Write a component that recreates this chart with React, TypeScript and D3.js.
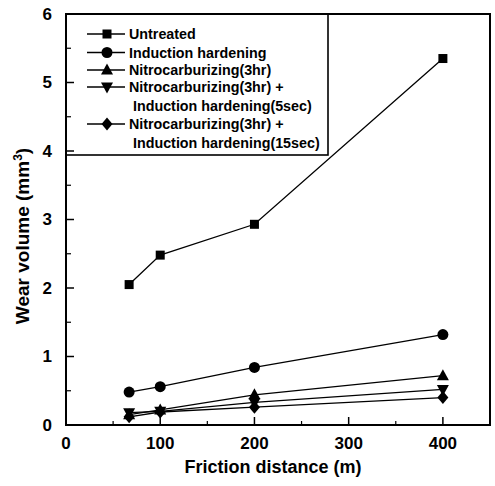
import { useMemo } from 'react';
import * as d3 from 'd3';

const W = 495;
const H = 486;
const MARGIN = { top: 14, right: 5, bottom: 61, left: 66 };

const distances = [67, 100, 200, 400];

const untreated = [2.05, 2.48, 2.93, 5.35];
const inductionHardening = [0.48, 0.56, 0.84, 1.32];
const nitro3hr = [0.15, 0.22, 0.44, 0.72];
const nitroIH5 = [0.18, 0.2, 0.33, 0.52];
const nitroIH15 = [0.12, 0.19, 0.26, 0.4];

const seriesNames = [
  ['Untreated'],
  ['Induction hardening'],
  ['Nitrocarburizing(3hr)'],
  ['Nitrocarburizing(3hr) +', 'Induction hardening(5sec)'],
  ['Nitrocarburizing(3hr) +', 'Induction hardening(15sec)'],
];
const seriesValues = [untreated, inductionHardening, nitro3hr, nitroIH5, nitroIH15];
const seriesSymbols = ['square', 'circle', 'triangle', 'down', 'diamond'];

const xTicks = [0, 100, 200, 300, 400];
const xMinorTicks = [50, 150, 250, 350, 450];
const yTicks = [0, 1, 2, 3, 4, 5, 6];
const yMinorTicks = [0.5, 1.5, 2.5, 3.5, 4.5, 5.5];

const FONT = 'Liberation Sans, Arial, sans-serif';

const Marker = ({ kind, x, y }: { kind: string; x: number; y: number }) => {
  if (kind === 'square') {
    return <rect x={x - 4.5} y={y - 4.5} width={9} height={9} fill="#000" />;
  }
  if (kind === 'circle') {
    return <circle cx={x} cy={y} r={5.5} fill="#000" />;
  }
  if (kind === 'triangle') {
    return <path d={`M${x},${y - 6.5}L${x + 6},${y + 4.5}L${x - 6},${y + 4.5}Z`} fill="#000" />;
  }
  if (kind === 'down') {
    return <path d={`M${x},${y + 6.5}L${x + 6},${y - 4.5}L${x - 6},${y - 4.5}Z`} fill="#000" />;
  }
  return <path d={`M${x},${y - 6.5}L${x + 5.5},${y}L${x},${y + 6.5}L${x - 5.5},${y}Z`} fill="#000" />;
};

const App = () => {
  const boundsWidth = W - MARGIN.left - MARGIN.right;
  const boundsHeight = H - MARGIN.top - MARGIN.bottom;

  const xScale = useMemo(() => d3.scaleLinear().domain([0, 450]).range([0, boundsWidth]), [boundsWidth]);
  const yScale = useMemo(() => d3.scaleLinear().domain([0, 6]).range([boundsHeight, 0]), [boundsHeight]);

  const line = d3
    .line<number>()
    .x((_, i) => xScale(distances[i]))
    .y(d => yScale(d));

  // legend rows: y of each entry's first line
  const legendRows = [20, 38.5, 56, 73, 110];
  const rowGap = 19;

  return (
    <svg width={W} height={H} style={{ position: 'absolute', left: 0, top: 0, background: '#fff' }}>
      <g transform={`translate(${MARGIN.left},${MARGIN.top})`} fontFamily={FONT} fontWeight="bold">
        {seriesValues.map((vals, si) => (
          <g key={`s${si}`}>
            <path d={line(vals) || ''} fill="none" stroke="#000" strokeWidth={1.3} />
            {vals.map((v, i) => (
              <Marker key={`m${si}-${i}`} kind={seriesSymbols[si]} x={xScale(distances[i])} y={yScale(v)} />
            ))}
          </g>
        ))}

        {/* legend */}
        <rect x={0} y={0} width={262} height={141} fill="#fff" stroke="#000" strokeWidth={1.6} />
        {seriesNames.map((names, si) => {
          const ly = legendRows[si];
          return (
            <g key={`l${si}`}>
              <line x1={21} x2={59} y1={ly} y2={ly} stroke="#000" strokeWidth={1.3} />
              <Marker kind={seriesSymbols[si]} x={41} y={ly} />
              {names.map((n, k) => (
                <text key={n + k} x={k === 0 ? 63 : 67} y={ly + k * rowGap} dominantBaseline="central" fontSize={14.3}>
                  {n}
                </text>
              ))}
            </g>
          );
        })}

        {/* frame */}
        <rect x={0} y={0} width={boundsWidth} height={boundsHeight} fill="none" stroke="#000" strokeWidth={2} />

        {/* x ticks */}
        {xTicks.map(t => (
          <g key={`xt${t}`}>
            <line x1={xScale(t)} x2={xScale(t)} y1={boundsHeight} y2={boundsHeight - 8} stroke="#000" strokeWidth={1.5} />
            <text x={xScale(t)} y={boundsHeight + 24} textAnchor="middle" fontSize={17}>
              {t}
            </text>
          </g>
        ))}
        {xMinorTicks.map(t => (
          <line key={`xm${t}`} x1={xScale(t)} x2={xScale(t)} y1={boundsHeight} y2={boundsHeight - 4} stroke="#000" strokeWidth={1.2} />
        ))}

        {/* y ticks */}
        {yTicks.map(t => (
          <g key={`yt${t}`}>
            <line x1={0} x2={8} y1={yScale(t)} y2={yScale(t)} stroke="#000" strokeWidth={1.5} />
            <text x={-14} y={yScale(t)} textAnchor="end" dominantBaseline="central" fontSize={17}>
              {t}
            </text>
          </g>
        ))}
        {yMinorTicks.map(t => (
          <line key={`ym${t}`} x1={0} x2={5} y1={yScale(t)} y2={yScale(t)} stroke="#000" strokeWidth={1.2} />
        ))}

        {/* axis titles */}
        <text x={boundsWidth / 2 - 5} y={boundsHeight + 48} textAnchor="middle" fontSize={18}>
          Friction distance (m)
        </text>
        <text transform={`translate(${-37},${222}) rotate(-90)`} textAnchor="middle" fontSize={19}>
          Wear volume (mm<tspan dy={-7} fontSize={12}>3</tspan>
          <tspan dy={7}>)</tspan>
        </text>
      </g>
    </svg>
  );
};

export default App;
